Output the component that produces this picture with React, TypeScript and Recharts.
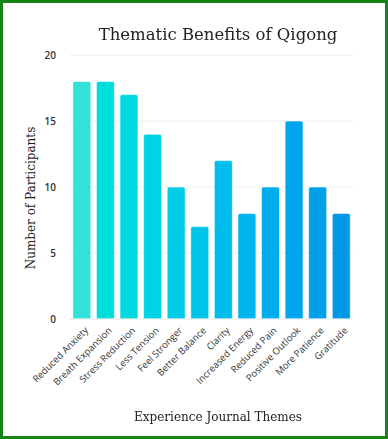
import { BarChart, Bar, XAxis, YAxis, CartesianGrid, Cell } from 'recharts';

const themes = [
  'Reduced Anxiety',
  'Breath Expansion',
  'Stress Reduction',
  'Less Tension',
  'Feel Stronger',
  'Better Balance',
  'Clarity',
  'Increased Energy',
  'Reduced Pain',
  'Positive Outlook',
  'More Patience',
  'Gratitude',
];
const participants = [18, 18, 17, 14, 10, 7, 12, 8, 10, 15, 10, 8];
const yTicks = [0, 5, 10, 15, 20];

const barColors = [
  '#33e2d6', '#00dedc', '#00d9e0', '#00d3e5', '#00cce8', '#00c5ea',
  '#00bdec', '#00b5ee', '#00adee', '#00a6ed', '#009fea', '#0097e6',
];

const chartData = themes.map((theme, i) => ({ theme, value: participants[i] }));

const serif = '"DejaVu Serif", serif';
const sans = '"Open Sans", sans-serif';

function XTick({ x, y, payload }: any) {
  const tx = x + 7;
  const ty = y + 4;
  return (
    <text
      x={tx}
      y={ty}
      textAnchor="end"
      transform={`rotate(-45, ${tx}, ${ty})`}
      fontFamily={sans}
      fontSize={9.5}
      fill="#333"
    >
      {payload.value}
    </text>
  );
}

export default function App() {
  return (
    <div
      style={{
        position: 'fixed',
        left: 0,
        top: 0,
        width: 388,
        height: 439,
        boxSizing: 'border-box',
        border: '3px solid #168316',
        background: '#fff',
      }}
    >
      <div
        style={{
          position: 'absolute',
          left: 0,
          top: 0,
          width: 388,
          height: 439,
          marginLeft: -3,
          marginTop: -3,
        }}
      >
        <BarChart
          width={388}
          height={439}
          data={chartData}
          margin={{ top: 55, right: 35, left: 8, bottom: 90 }}
          barCategoryGap="12%"
        >
          <CartesianGrid vertical={false} stroke="#eeeeee" />
          <XAxis
            dataKey="theme"
            interval={0}
            tick={<XTick />}
            tickLine={false}
            axisLine={{ stroke: '#eeeeee' }}
          />
          <YAxis
            width={62}
            domain={[0, 20]}
            ticks={yTicks}
            tickLine={false}
            axisLine={false}
            tickMargin={8}
            tick={{ fontSize: 10, fontFamily: sans, fontWeight: 600, fill: '#333' }}
          />
          <Bar dataKey="value" isAnimationActive={false} radius={[2, 2, 0, 0]} stroke="#ffffff" strokeWidth={0.6}>
            {chartData.map((d, i) => (
              <Cell key={d.theme} fill={barColors[i]} />
            ))}
          </Bar>
        </BarChart>
        <div
          style={{
            position: 'absolute',
            left: 0,
            width: 436,
            top: 25,
            textAlign: 'center',
            fontFamily: serif,
            fontSize: 16.5,
            color: '#222',
          }}
        >
          Thematic Benefits of Qigong
        </div>
        <div
          style={{
            position: 'absolute',
            left: 0,
            width: 436,
            top: 410,
            textAlign: 'center',
            fontFamily: serif,
            fontSize: 12,
            color: '#222',
          }}
        >
          Experience Journal Themes
        </div>
        <div
          style={{
            position: 'absolute',
            left: 31,
            top: 198,
            transform: 'translate(-50%, -50%) rotate(-90deg)',
            whiteSpace: 'nowrap',
            fontFamily: serif,
            fontSize: 12,
            color: '#222',
          }}
        >
          Number of Participants
        </div>
      </div>
    </div>
  );
}
